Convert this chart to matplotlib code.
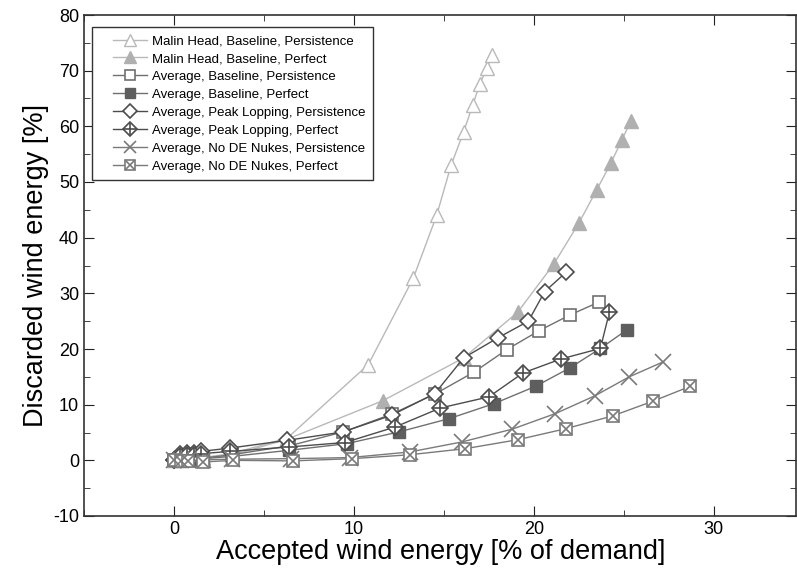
import matplotlib
matplotlib.use("Agg")
import matplotlib.pyplot as plt
from matplotlib.ticker import MultipleLocator
from matplotlib.lines import Line2D
from matplotlib.legend_handler import HandlerLine2D

plt.rcParams['font.family'] = ['Liberation Sans', 'DejaVu Sans']
plt.rcParams['axes.unicode_minus'] = False

# Malin Head, Baseline
mh_pers_x = [0, 0.4, 0.8, 1.6, 3.2, 6.3, 10.8, 13.3, 14.6, 15.4, 16.1, 16.6, 17.0, 17.4, 17.7]
mh_pers_y = [0, 0.1, 0.2, 0.5, 1.2, 4.0, 17.2, 32.7, 44.0, 53.0, 59.0, 63.8, 67.6, 70.5, 72.9]
mh_perf_x = [0, 0.4, 0.8, 1.6, 3.2, 6.3, 11.6, 16.1, 19.1, 21.1, 22.5, 23.5, 24.3, 24.9, 25.4]
mh_perf_y = [0, 0.1, 0.2, 0.4, 0.9, 3.8, 10.7, 18.4, 26.6, 35.2, 42.6, 48.6, 53.5, 57.6, 61.0]

# Average, Baseline
bl_pers_x = [0, 0.4, 0.8, 1.2, 1.6, 3.2, 6.4, 9.4, 12.1, 14.5, 16.7, 18.5, 20.3, 22.0, 23.6]
bl_pers_y = [0, 0.1, 0.2, 0.3, 0.4, 1.0, 2.6, 5.1, 8.3, 11.9, 15.9, 19.9, 23.3, 26.1, 28.4]
bl_perf_x = [0, 0.4, 0.8, 1.2, 1.6, 3.2, 6.4, 9.6, 12.5, 15.3, 17.8, 20.1, 22.0, 23.7, 25.2]
bl_perf_y = [0, 0.0, 0.1, 0.2, 0.3, 0.7, 1.8, 3.0, 5.1, 7.5, 10.2, 13.3, 16.6, 20.1, 23.5]

# Average, Peak Lopping
pl_pers_x = [0, 0.35, 0.7, 1.1, 1.5, 3.1, 6.3, 9.4, 12.1, 14.5, 16.1, 18.0, 19.7, 20.6, 21.8]
pl_pers_y = [0, 1.1, 1.3, 1.4, 1.6, 2.2, 3.6, 5.1, 8.1, 12.0, 18.4, 22.0, 25.0, 30.3, 33.8]
pl_perf_x = [0, 0.35, 0.7, 1.1, 1.5, 3.1, 6.4, 9.5, 12.3, 14.8, 17.5, 19.4, 21.5, 23.7, 24.2]
pl_perf_y = [0, 0.7, 0.9, 1.0, 1.2, 1.6, 2.4, 3.2, 6.0, 9.4, 11.4, 15.7, 18.2, 20.1, 26.6]

# Average, No DE Nukes
nd_pers_x = [0, 0.4, 0.8, 1.6, 3.2, 6.5, 9.8, 13.1, 16.0, 18.8, 21.2, 23.4, 25.3, 27.2]
nd_pers_y = [0, 0.0, 0.0, 0.1, 0.2, 0.3, 0.5, 1.5, 3.3, 5.6, 8.4, 11.6, 15.0, 17.7]
nd_perf_x = [0, 0.4, 0.8, 1.6, 3.3, 6.6, 9.9, 13.1, 16.2, 19.1, 21.8, 24.4, 26.6, 28.7]
nd_perf_y = [0, -0.1, -0.2, -0.3, 0.0, -0.1, 0.3, 1.0, 2.1, 3.7, 5.7, 8.0, 10.6, 13.3]


class PadHandler(HandlerLine2D):
    # leave some room left of the legend symbol
    def create_artists(self, legend, orig_handle, xdescent, ydescent, width,
                       height, fontsize, trans):
        pad = 1.0 * fontsize
        return super().create_artists(legend, orig_handle, xdescent - pad,
                                      ydescent, width - pad, height, fontsize,
                                      trans)


fig = plt.figure(figsize=(7.97, 5.77), dpi=100)
ax = fig.add_axes([84 / 797, 61 / 577, 712.5 / 797, 501 / 577])

light = '#b9b9b9'
mid = '#707070'
dark = '#4c4c4c'
ms = 9

h1, = ax.plot(mh_pers_x, mh_pers_y, '-', color=light, lw=1, marker='^', ms=ms + 1,
              mfc='white', mec=light, mew=1)
h2, = ax.plot(mh_perf_x, mh_perf_y, '-', color=light, lw=1, marker='^', ms=ms + 1,
              mfc='#b0b0b0', mec='#b0b0b0')
h3, = ax.plot(bl_pers_x, bl_pers_y, '-', color=mid, lw=1, marker='s', ms=ms,
              mfc='white', mec=mid, mew=1.2)
h4, = ax.plot(bl_perf_x, bl_perf_y, '-', color=mid, lw=1, marker='s', ms=ms,
              mfc='#5e5e5e', mec='#5e5e5e')
h5, = ax.plot(pl_pers_x, pl_pers_y, '-', color=dark, lw=1, marker='D', ms=ms - 1,
              mfc='white', mec=dark, mew=1.2)
h6a, = ax.plot(pl_perf_x, pl_perf_y, '-', color=dark, lw=1, marker='D', ms=ms - 1,
               mfc='white', mec=dark, mew=1.2)
h6b, = ax.plot(pl_perf_x, pl_perf_y, ls='none', marker='+', ms=ms + 1,
               mec=dark, mew=1.2)
h7, = ax.plot(nd_pers_x, nd_pers_y, '-', color='#7a7a7a', lw=1, marker='x', ms=ms + 2,
              mec='#7a7a7a', mew=1.2)
h8a, = ax.plot(nd_perf_x, nd_perf_y, '-', color='#7a7a7a', lw=1, marker='s', ms=ms,
               mfc='white', mec='#7a7a7a', mew=1.2)
h8b, = ax.plot(nd_perf_x, nd_perf_y, ls='none', marker='x', ms=ms - 1,
               mec='#7a7a7a', mew=1.2)

labels = ['Malin Head, Baseline, Persistence',
          'Malin Head, Baseline, Perfect',
          'Average, Baseline, Persistence',
          'Average, Baseline, Perfect',
          'Average, Peak Lopping, Persistence',
          'Average, Peak Lopping, Perfect',
          'Average, No DE Nukes, Persistence',
          'Average, No DE Nukes, Perfect']
leg = ax.legend([h1, h2, h3, h4, h5, (h6a, h6b), h7, (h8a, h8b)], labels,
                loc='upper left', bbox_to_anchor=(0.011, 0.976), borderaxespad=0,
                fontsize=9.5, fancybox=False, framealpha=1, edgecolor='#333333',
                handlelength=3.6, labelspacing=0.43, borderpad=0.6,
                handletextpad=0.35, markerscale=0.85,
                handler_map={Line2D: PadHandler()})
leg.get_frame().set_linewidth(1.0)

ax.set_xlim(-5, 34.6)
ax.set_ylim(-10, 80)
ax.xaxis.set_major_locator(MultipleLocator(10))
ax.xaxis.set_minor_locator(MultipleLocator(5))
ax.yaxis.set_major_locator(MultipleLocator(10))
ax.yaxis.set_minor_locator(MultipleLocator(5))
ax.tick_params(which='both', direction='in', top=True, right=True, labelsize=13,
               color='#222222')
ax.tick_params(which='major', length=7)
ax.tick_params(which='minor', length=4)
for s in ax.spines.values():
    s.set_color('#333333')
    s.set_linewidth(1.2)

ax.set_xlabel('Accepted wind energy [% of demand]', fontsize=19.5, labelpad=1)
ax.set_ylabel('Discarded wind energy [%]', fontsize=19.5, labelpad=3)

fig.savefig('out.png', dpi=100)
